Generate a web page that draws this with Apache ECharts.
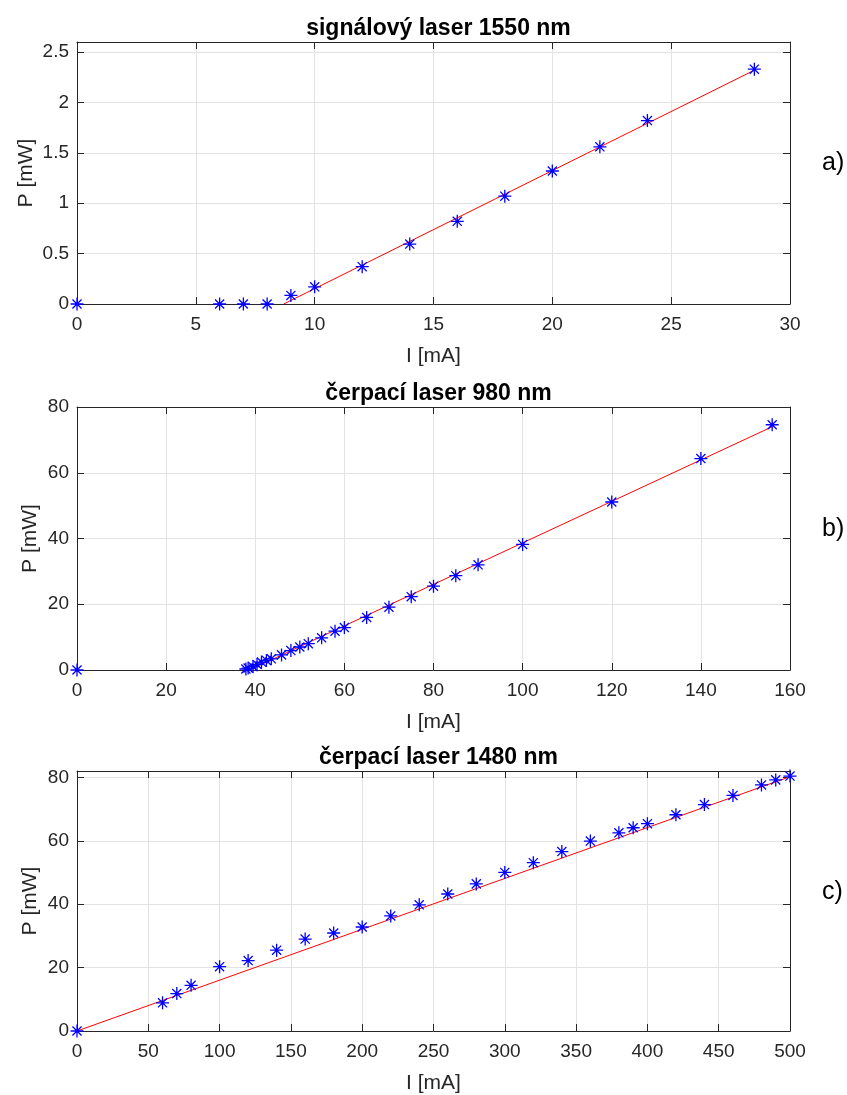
<!DOCTYPE html>
<html>
<head>
<meta charset="utf-8">
<script src="https://cdn.jsdelivr.net/npm/echarts@6/dist/echarts.min.js"></script>
<style>
html,body{margin:0;padding:0;background:#fff;}
#c{width:847px;height:1095px;}
</style>
</head>
<body>
<div id="c"></div>
<script>
// ---- data ----
const titles = ['signálový laser 1550 nm', 'čerpací laser 980 nm', 'čerpací laser 1480 nm'];
const panelTags = ['a)', 'b)', 'c)'];
const xName = 'I [mA]';
const yName = 'P [mW]';

const measA_I = [0, 6, 7, 8, 9, 10, 12, 14, 16, 18, 20, 22, 24, 28.5];
const measA_P = [0, 0, 0, 0, 0.085, 0.17, 0.37, 0.595, 0.82, 1.07, 1.32, 1.56, 1.82, 2.33];
const fitA_I = [8.7, 28.5];
const fitA_P = [0, 2.32];

const measB_I = [0, 37.9, 38.4, 39.5, 40.4, 41.4, 42.5, 43.6, 45.9, 48, 50, 51.9, 54.9, 57.9, 60, 65, 70, 75, 80, 85, 90, 100, 120, 140, 156];
const measB_P = [0, 0.3, 0.6, 1.0, 1.7, 2.4, 2.9, 3.4, 4.6, 5.9, 7.0, 8.0, 9.8, 11.8, 12.9, 16.0, 19.1, 22.3, 25.5, 28.7, 32.0, 38.2, 51.1, 64.3, 74.6];
const fitB_I = [38.7, 156];
const fitB_P = [0, 74];

const measC_I = [0, 60, 70, 80, 100, 120, 140, 160, 180, 200, 220, 240, 260, 280, 300, 320, 340, 360, 380, 390, 400, 420, 440, 460, 480, 490, 500];
const measC_P = [0, 8.9, 11.8, 14.4, 20.3, 22.2, 25.5, 29.0, 30.9, 32.8, 36.3, 39.8, 43.2, 46.4, 50.0, 53.1, 56.6, 59.9, 62.5, 64.1, 65.4, 68.2, 71.4, 74.3, 77.6, 79.2, 80.4];
const fitC_I = [0, 500];
const fitC_P = [0, 80.2];

const xRanges = [[0, 30, 5], [0, 160, 20], [0, 500, 50]];
const yRanges = [[0, 2.6, 0.5], [0, 80, 20], [0, 82, 20]];

// ---- layout ----
const gridTops = [42, 407, 771];
const gridHeights = [262, 263, 262];
const yNameGaps = [40, 36, 36];
const GL = 77, GW = 713;
const txt = '#262626';
const font = 'Liberation Sans, Arial, sans-serif';

const star = 'path://M0 45 L100 45 L100 55 L0 55 Z M45 0 L55 0 L55 100 L45 100 Z M11.5 18.5 L18.5 11.5 L88.5 81.5 L81.5 88.5 Z M81.5 11.5 L88.5 18.5 L18.5 88.5 L11.5 81.5 Z';

const meas = [[measA_I, measA_P], [measB_I, measB_P], [measC_I, measC_P]];
const fits = [[fitA_I, fitA_P], [fitB_I, fitB_P], [fitC_I, fitC_P]];

const grid = [], xAxis = [], yAxis = [], series = [], title = [], graphic = [];
for (let i = 0; i < 3; i++) {
  grid.push({left: GL, width: GW, top: gridTops[i], height: gridHeights[i], containLabel: false});
  const [xmin, xmax, xint] = xRanges[i];
  const [ymin, ymax, yint] = yRanges[i];
  const axLine = {show: true, lineStyle: {color: txt, width: 1}};
  const tick = {show: true, inside: true, length: 7, lineStyle: {color: txt}};
  xAxis.push({
    type: 'value', gridIndex: i, min: xmin, max: xmax, interval: xint,
    position: 'bottom',
    axisLine: Object.assign({onZero: false}, axLine), axisTick: tick,
    axisLabel: {color: txt, fontFamily: font, fontSize: 19, margin: 11},
    splitLine: {show: true, lineStyle: {color: '#e3e3e3', width: 1}},
    name: xName, nameLocation: 'middle', nameGap: 42, nameMoveOverlap: false,
    nameTextStyle: {color: txt, fontFamily: font, fontSize: 21}
  });
  xAxis.push({
    type: 'value', gridIndex: i, min: xmin, max: xmax, interval: xint,
    position: 'top',
    axisLine: Object.assign({onZero: false}, axLine), axisTick: tick,
    axisLabel: {show: false}, splitLine: {show: false}
  });
  yAxis.push({
    type: 'value', gridIndex: i, min: ymin, max: ymax, interval: yint,
    position: 'left',
    axisLine: Object.assign({onZero: false}, axLine), axisTick: tick,
    axisLabel: {color: txt, fontFamily: font, fontSize: 19, margin: 8, showMaxLabel: ymax % yint === 0},
    splitLine: {show: true, lineStyle: {color: '#e3e3e3', width: 1}},
    name: yName, nameLocation: 'middle', nameGap: yNameGaps[i], nameMoveOverlap: false,
    nameTextStyle: {color: txt, fontFamily: font, fontSize: 21}
  });
  yAxis.push({
    type: 'value', gridIndex: i, min: ymin, max: ymax, interval: yint,
    position: 'right',
    axisLine: Object.assign({onZero: false}, axLine), axisTick: tick,
    axisLabel: {show: false}, splitLine: {show: false}
  });
  const [fx, fy] = fits[i];
  series.push({
    type: 'line', xAxisIndex: 2 * i, yAxisIndex: 2 * i,
    data: fx.map((v, k) => [v, fy[k]]),
    symbol: 'none', lineStyle: {color: '#ff0000', width: 1}, animation: false, z: 3
  });
  const [mx, my] = meas[i];
  series.push({
    type: 'scatter', xAxisIndex: 2 * i, yAxisIndex: 2 * i,
    data: mx.map((v, k) => [v, my[k]]),
    symbol: star, symbolSize: 13,
    itemStyle: {color: '#0000ff', opacity: 1}, animation: false, z: 4
  });
  title.push({
    text: titles[i], left: GL + GW / 2, top: gridTops[i] - 30, textAlign: 'center',
    textStyle: {color: '#000', fontFamily: font, fontSize: 23, fontWeight: 'bold'}
  });
  graphic.push({
    type: 'text', left: 822, top: gridTops[i] + gridHeights[i] / 2 - 22,
    style: {text: panelTags[i], fill: '#000', font: '25px ' + font}
  });
}

const chart = echarts.init(document.getElementById('c'), null, {renderer: 'canvas'});
chart.setOption({
  animation: false,
  backgroundColor: '#fff',
  title, grid, xAxis, yAxis, series, graphic
});
</script>
</body>
</html>
